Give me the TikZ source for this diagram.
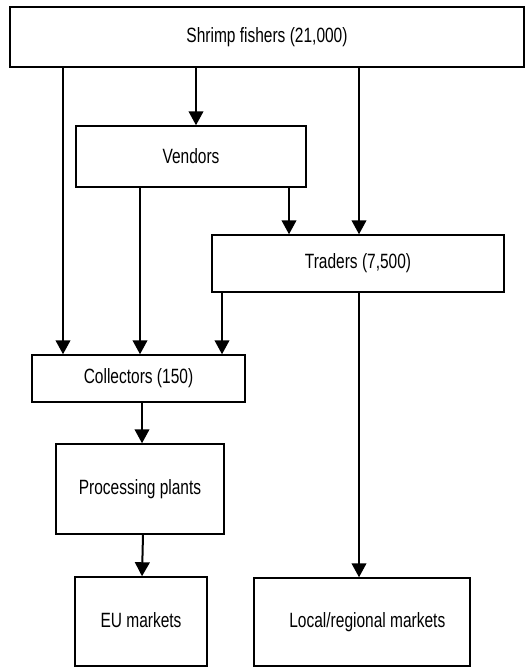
\documentclass[tikz,border=0pt]{standalone}
\usepackage{fontspec}
\setmainfont[FakeStretch=0.75]{Liberation Sans}
\usetikzlibrary{arrows.meta}
\begin{document}
\begin{tikzpicture}[x=0.75pt,y=-0.75pt,
  box/.style={draw, line width=1.1pt, inner sep=0pt, font=\fontsize{15.5pt}{18pt}\selectfont},
  sz/.style 2 args={minimum width=#1*0.75pt, minimum height=#2*0.75pt},
  arr/.style={line width=1.5pt, -{Triangle[width=11pt,length=10.5pt]}}]
\useasboundingbox (0,0) rectangle (527,667);
\node[box, sz={514}{60}] (fish) at (267,37) {\raisebox{1.5pt}{Shrimp fishers (21,000)}};
\node[box, sz={230}{61}] (vend) at (191,156.5) {Vendors};
\node[box, sz={292}{57}] (trad) at (358,263.5) {Traders (7,500)};
\node[box, sz={213}{47}] (coll) at (138.5,378.5) {Collectors (150)};
\node[box, sz={168}{90}] (proc) at (140,489) {Processing plants};
\node[box, sz={132}{89}] (eu) at (141,621.5) {\raisebox{2pt}{EU markets}};
\node[box, sz={216}{88}] (loc) at (362,622) {\hspace*{8pt}\raisebox{2pt}{Local/regional markets}};
\coordinate (xa) at (63,0);
\coordinate (xb) at (196,0);
\coordinate (xc) at (359,0);
\coordinate (xd) at (140,0);
\coordinate (xe) at (289,0);
\coordinate (xf) at (222,0);
\coordinate (xg) at (142,0);
\coordinate (xh) at (143,0);
\draw[arr] (fish.south -| xa) -- (coll.north -| xa);
\draw[arr] (fish.south -| xb) -- (vend.north -| xb);
\draw[arr] (fish.south -| xc) -- (trad.north -| xc);
\draw[arr] (vend.south -| xd) -- (coll.north -| xd);
\draw[arr] (vend.south -| xe) -- (trad.north -| xe);
\draw[arr] (trad.south -| xf) -- (coll.north -| xf);
\draw[arr] (trad.south -| xc) -- (loc.north -| xc);
\draw[arr] (coll.south -| xg) -- (proc.north -| xg);
\draw[arr] (proc.south -| xh) -- (eu.north -| xg);
\end{tikzpicture}
\end{document}
